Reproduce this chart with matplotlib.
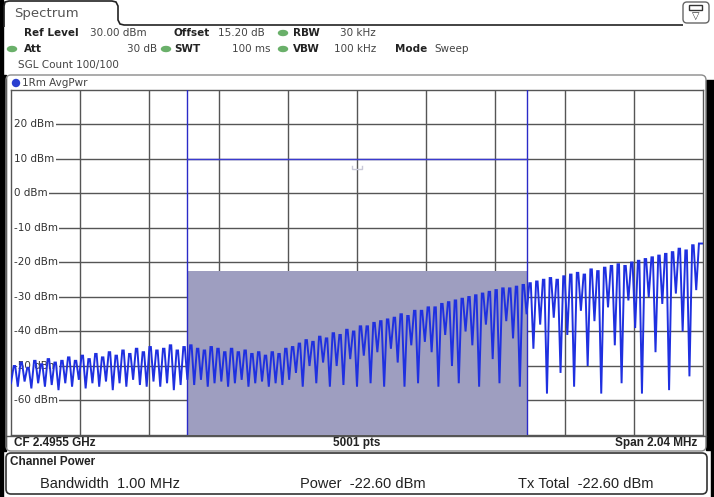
import matplotlib
matplotlib.use("Agg")
import matplotlib.pyplot as plt
from matplotlib.patches import FancyBboxPatch, Rectangle, Ellipse, PathPatch
from matplotlib.path import Path

# ---------------- data ----------------
span_mhz = 2.04
tooth_mhz = 0.02
chan_bw_mhz = 1.00
chan_power_dbm = -22.60
marker_dbm = 10.0
ylevels = [20, 10, 0, -10, -20, -30, -40, -50, -60]
ylabels = ["20 dBm", "10 dBm", "0 dBm", "-10 dBm", "-20 dBm",
           "-30 dBm", "-40 dBm", "-50 dBm", "-60 dBm"]

peak_dbm = [
    -50, -49, -50.5, -48.5, -49.5, -48, -49, -48.5, -47.5, -48.5, -47, -48, -46.5,
    -47.5, -46, -47, -45.5, -46.5, -45, -46, -44.5, -45.5, -45, -44, -45.5, -44.5,
    -44, -45, -45.5, -44.5, -45, -46, -45, -46, -45.5, -46.5, -46, -47, -46, -46.5,
    -45, -44.5,
    -43.5, -42.5, -43, -41.5, -42, -40.5, -41, -39.5, -40, -38.5, -38.5, -37.5, -37,
    -36.5, -36, -35, -35.5, -34, -34, -33, -33, -32, -31.5, -31, -30.5, -30, -29.5,
    -29, -28.5, -28, -27.5, -27.5, -27, -26.5, -26,
    -25.5, -25, -24.5, -25, -24, -23.5, -23, -23.5, -22, -22.5, -21.5, -21, -20.5,
    -21, -20, -19.5, -19, -18.5, -18, -17.5, -17, -16, -16.5, -15, -14.5,
]
dip_dbm = [
    -55, -56, -54.5, -56.5, -55, -56, -55.5, -57, -55, -56, -54, -56.5, -55, -56,
    -54.5, -57, -55, -56, -54, -55.5, -56, -54.5, -56, -55, -57, -55.5,
    -54, -55.5, -54, -56, -55, -54.5, -56, -55, -54, -56, -55, -54.5, -56, -55,
    -55.5, -54,
    -52, -56, -50, -55, -49, -56, -50, -55.5, -48, -56, -47, -55, -46, -56, -45,
    -49, -56, -44, -55, -43, -46, -56, -41, -50, -55, -40, -44, -56, -38, -48, -55,
    -37, -42, -56, -35,
    -45, -38, -58, -36, -52, -41, -56, -34, -50, -37, -58, -33, -44, -55, -31, -39,
    -58, -30, -46, -32, -57, -29, -40, -53, -28,
]

# ---------------- figure ----------------
W, H = 714, 497
fig = plt.figure(figsize=(W / 100, H / 100), dpi=100)
fig.patch.set_facecolor("white")

# overlay in pixel coordinates
ov = fig.add_axes([0, 0, 1, 1], zorder=0)
ov.set_xlim(0, W)
ov.set_ylim(H, 0)
ov.axis("off")

# black borders
ov.add_patch(Rectangle((0, 0), 3, H, color="black"))
ov.add_patch(Rectangle((0, 75), 6, 376, color="black"))
ov.add_patch(Rectangle((706, 80), 8, 370, color="black"))
ov.add_patch(Rectangle((711, 440), 3, 57, color="black"))

# tab "Spectrum"
tab = Path([(4, 27), (4, 6), (5, 2), (9, 1), (112, 1), (116, 2), (118, 6),
            (118, 20), (120, 24), (124, 25), (683, 25)],
           [Path.MOVETO] + [Path.LINETO] * 10)
ov.add_patch(PathPatch(tab, fill=False, edgecolor="#222222", lw=1.2))
ov.text(14, 13, "Spectrum", fontsize=9.5, color="#555555", va="center",
        family="DejaVu Sans")

# icon top right
ov.add_patch(FancyBboxPatch((683, 2), 26, 21, boxstyle="round,pad=0,rounding_size=4",
                            fill=False, edgecolor="#666666", lw=1))
ov.add_patch(Rectangle((689, 5), 13, 5, facecolor="white", edgecolor="#333333", lw=1))
ov.text(695.5, 16, "\u25bd", fontsize=7, ha="center", va="center", color="#333333")

# header rows
hf = dict(fontsize=7.5, va="center", family="DejaVu Sans")
ov.text(24, 33, "Ref Level", fontweight="bold", color="#222222", **hf)
ov.text(90, 33, "30.00 dBm", color="#444444", **hf)
ov.text(174, 33, "Offset", fontweight="bold", color="#222222", **hf)
ov.text(218, 33, "15.20 dB", color="#444444", **hf)
ov.text(293, 33, "RBW", fontweight="bold", color="#222222", **hf)
ov.text(376, 33, "30 kHz", color="#444444", ha="right", **hf)
ov.text(24, 49, "Att", fontweight="bold", color="#222222", **hf)
ov.text(157, 49, "30 dB", color="#444444", ha="right", **hf)
ov.text(174, 49, "SWT", fontweight="bold", color="#222222", **hf)
ov.text(270, 49, "100 ms", color="#444444", ha="right", **hf)
ov.text(293, 49, "VBW", fontweight="bold", color="#222222", **hf)
ov.text(376, 49, "100 kHz", color="#444444", ha="right", **hf)
ov.text(395, 49, "Mode", fontweight="bold", color="#222222", **hf)
ov.text(434, 49, "Sweep", color="#444444", **hf)
ov.text(18, 65, "SGL Count 100/100", color="#444444", **hf)
for (cx, cy) in [(283, 33), (12, 49), (166, 49), (283, 49)]:
    ov.add_patch(Ellipse((cx, cy), 9, 5, color="#6ab06a"))

# trace window box
ov.add_patch(FancyBboxPatch((6, 75), 700, 376, boxstyle="round,pad=0,rounding_size=5",
                            fill=False, edgecolor="#8a8a8a", lw=1))
ov.add_patch(Ellipse((16, 83), 7, 7, color="#2a3fd0"))
ov.text(22, 83, "1Rm AvgPwr", color="#444444", **hf)

# bottom row of trace window
bf = dict(fontsize=8.5, va="center", family="Liberation Sans", fontweight="bold",
          color="#222222")
ov.plot([6, 706], [436, 436], color="#555555", lw=1)
ov.text(14, 443, "CF 2.4955 GHz", ha="left", **bf)
ov.text(357, 443, "5001 pts", ha="center", **bf)
ov.text(697, 443, "Span 2.04 MHz", ha="right", **bf)

# channel power box
ov.add_patch(FancyBboxPatch((6, 453), 701, 41, boxstyle="round,pad=0,rounding_size=5",
                            fill=False, edgecolor="#333333", lw=1.2))
ov.text(10, 462, "Channel Power", ha="left", **bf)
cf = dict(fontsize=10.5, va="center", family="Liberation Sans", color="#222222")
ov.text(40, 484, "Bandwidth  1.00 MHz", **cf)
ov.text(300, 484, "Power  %.2f dBm" % chan_power_dbm, **cf)
ov.text(518, 484, "Tx Total  %.2f dBm" % chan_power_dbm, **cf)

# ---------------- main plot ----------------
x0, y0, x1, y1 = 11, 90, 703, 435
ax = fig.add_axes([x0 / W, 1 - y1 / H, (x1 - x0) / W, (y1 - y0) / H], zorder=1)
ax.set_facecolor("white")
half = span_mhz / 2
ax.set_xlim(-half, half)
ax.set_ylim(-70, 30)
ax.set_xticks([])
ax.set_yticks([])
for s in ax.spines.values():
    s.set_color("#555555")
    s.set_linewidth(1)

for i in range(1, 10):
    ax.axvline(-half + i * span_mhz / 10, color="#555555", lw=1, zorder=1)
for lv, lb in zip(ylevels, ylabels):
    ax.axhline(lv, color="#555555", lw=1, zorder=1)
    ax.text(0.004, lv, lb, transform=ax.get_yaxis_transform(), fontsize=7.5,
            color="#333333", va="center", ha="left", family="DejaVu Sans", zorder=2,
            bbox=dict(facecolor="white", edgecolor="none", pad=1.2))

# channel shading and markers
cl, cr = -chan_bw_mhz / 2, chan_bw_mhz / 2
ax.fill_between([cl, cr], -70, chan_power_dbm, color="#9e9ec0", lw=0, zorder=3)
ax.axvline(cl, color="#2a2ac8", lw=1, zorder=4)
ax.axvline(cr, color="#2a2ac8", lw=1, zorder=4)
ax.plot([cl, cr], [marker_dbm, marker_dbm], color="#3a3ad0", lw=1, zorder=4)
ax.plot([-0.015, -0.015, 0.015, 0.015], [8.0, 7.0, 7.0, 8.0], color="#c8c8d8",
        lw=1, zorder=4)

# trace: each comb tooth drawn as dip -> peak -> peak, back to next dip
xs, ys = [], []
for k in range(len(peak_dbm)):
    f = -half + k * tooth_mhz
    xs += [f, f + 0.4 * tooth_mhz, f + 0.62 * tooth_mhz]
    ys += [dip_dbm[k], peak_dbm[k], peak_dbm[k]]
xs.append(half)
ys.append(peak_dbm[-1])
ax.plot(xs, ys, color="#1f30e0", lw=1.4, zorder=5, solid_joinstyle="miter")

fig.savefig("out.png", dpi=100, facecolor="white")
